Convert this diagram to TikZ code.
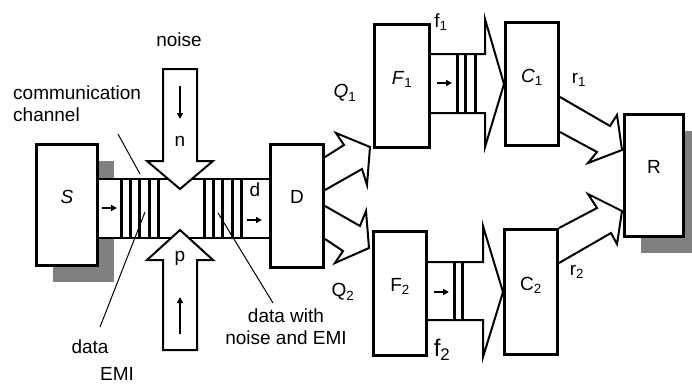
\documentclass[tikz,border=0pt]{standalone}
\usepackage{fontspec}
\setmainfont{Liberation Sans}
\usetikzlibrary{arrows.meta,calc,shadows}

\begin{document}
\begin{tikzpicture}[
    x=1pt, y=-1pt,
    font=\fontsize{19}{22}\selectfont,
    box/.style={draw, fill=white, line width=3pt, minimum width=#1, minimum height=123pt, inner sep=0pt, text height=14pt, text depth=18pt},
    box/.default=53pt,
    shade/.style={drop shadow={shadow xshift=16pt, shadow yshift=-16pt, fill=black!50, opacity=1}},
    fat/.style={draw, fill=white, line width=2pt, line join=miter},
    wire/.style={line width=2pt},
    bar/.style={line width=3pt},
    lead/.style={line width=1pt},
    arr/.style={-{Triangle[length=6pt, width=6pt]}, line width=1.5pt}
  ]
    \useasboundingbox (0,0) rectangle (692,384);

    \node[box=61pt, shade, minimum height=121pt] (s) at (67,205) {\textit{S}};
    \node[box] (d) at (297,205.5) {D};
    \node[box=55pt] (f1) at (402,86) {\textit{F}\textsubscript{1}};
    \node[box, minimum height=124pt] (f2) at (400,293.5) {F\textsubscript{2}};
    \node[box] (c1) at (532,84) {\textit{C}\textsubscript{1}};
    \node[box, minimum height=125pt] (c2) at (531,292) {C\textsubscript{2}};
    \node[box=59pt, shade, minimum height=122pt] (r) at (654,175.5) {R};

    % communication channel
    \fill[white] (99,179) rectangle (268,238);
    \draw[wire] (s.east |- 0,179) -- (d.west |- 0,179);
    \draw[wire] (s.east |- 0,238) -- (d.west |- 0,238);
    \draw[bar] (121,179) -- (121,238) (130,179) -- (130,238) (139.5,179) -- (139.5,238)
               (149,179) -- (149,238) (158,179) -- (158,238);
    \draw[bar] (204,179) -- (204,238) (213,179) -- (213,238) (222.5,179) -- (222.5,238)
               (232,179) -- (232,238) (241,179) -- (241,238);
    \coordinate (sin) at (102,208);
    \coordinate (sout) at (117,208);
    \coordinate (din) at (247,220);
    \coordinate (dout) at (262,220);
    \draw[arr] (sin) -- (sout);
    \draw[arr] (din) -- (dout);

    % noise from above, EMI from below
    \draw[fat] (163,69) -- (197,69) -- (197,161) -- (213,161) -- (180,189)
               -- (147,161) -- (163,161) -- cycle;
    \draw[fat] (163,350) -- (197,350) -- (197,260) -- (213,260) -- (180,230)
               -- (147,260) -- (163,260) -- cycle;
    \coordinate (nin) at (180,86);
    \coordinate (nout) at (180,119);
    \coordinate (pin) at (180,334);
    \coordinate (pout) at (180,297);
    \draw[arr] (nin) -- (nout);
    \draw[arr] (pin) -- (pout);

    % D splits towards the two filters
    \draw[fat] ($(d.east)+(0,-48.5)$) -- (344,145) -- (336,133) -- (370,147)
               -- (367,185) -- (362,169) -- ($(d.east)+(0,-15.5)$);
    \draw[fat] ($(d.east)+(0,33.5)$) -- (343,251) -- (335,263) -- (369,248)
               -- (366,211) -- (360,226) -- ($(d.east)+(0,0.5)$);

    % filters to C
    \draw[fat] ($(f1.east)+(0,-32)$) -- (485,54) -- (485,19) -- (c1.west)
               -- (485,147) -- (485,113) -- ($(f1.east)+(0,27)$);
    \draw[bar] (457,54) -- (457,113) (465.5,54) -- (465.5,113) (475,54) -- (475,113);
    \coordinate (f1in) at (437,83);
    \coordinate (f1out) at (452,83);
    \draw[arr] (f1in) -- (f1out);

    \draw[fat] ($(f2.east)+(0,-31.5)$) -- (483,262) -- (483,226) -- (c2.west)
               -- (483,357) -- (483,320) -- ($(f2.east)+(0,26.5)$);
    \draw[bar] (454.5,262) -- (454.5,320) (462.5,262) -- (462.5,320);
    \coordinate (f2in) at (434,292);
    \coordinate (f2out) at (449,292);
    \draw[arr] (f2in) -- (f2out);

    % C to R
    \draw[fat] ($(c1.east)+(0,13)$) -- (610,126) -- (617,115) -- ($(r.west)+(-1,-25.5)$)
               -- (588,163) -- (597,152) -- ($(c1.east)+(0,48)$);
    \draw[fat] ($(c2.east)+(0,-64)$) -- (597,208) -- (588,194) -- ($(r.west)+(-1,35.5)$)
               -- (617,244) -- (611,233) -- ($(c2.east)+(0,-29)$);

    % labels
    \node (noise) at (179,40) {noise};
    \node (n) at (180,141) {n};
    \node (p) at (180,258) {p};
    \node[align=left, anchor=west, inner sep=0pt] (cc) at (13,103.5) {communication\\channel};
    \node (dl) at (255,190) {d};
    \node (data) at (90,347) {data};
    \node (emi) at (117,374) {EMI};
    \node[align=center] (dne) at (286,327) {data with\\noise and EMI};
    \node (q1) at (345,93) {\textit{Q}\textsubscript{1}};
    \node (q2) at (343,292) {Q\textsubscript{2}};
    \node (f1l) at (441,22) {f\textsubscript{1}};
    \node (f2l) at (442,350) {\fontsize{24}{28}\selectfont f\textsubscript{2}};
    \node (r1l) at (579,80) {r\textsubscript{1}};
    \node (r2l) at (577,272) {r\textsubscript{2}};

    \coordinate (cct) at (118,134);
    \coordinate (ccb) at (140,174);
    \coordinate (datat) at (145,212);
    \coordinate (datab) at (100,327);
    \coordinate (dnet) at (218,213);
    \coordinate (dneb) at (273,303);
    \draw[lead] (cct) -- (ccb);
    \draw[lead] (datab) -- (datat);
    \draw[lead] (dneb) -- (dnet);
  \end{tikzpicture}
\end{document}
